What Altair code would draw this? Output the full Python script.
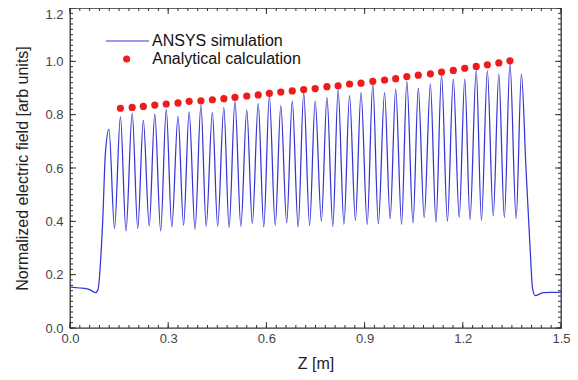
import altair as alt
import pandas as pd

# ---------------- data ----------------
start_x = [0.0, 0.03, 0.058, 0.078, 0.085, 0.100, 0.108]
start_y = [0.153, 0.150, 0.145, 0.133, 0.142, 0.404, 0.653]

peak_x = [0.119, 0.154, 0.190, 0.224, 0.259, 0.294, 0.330, 0.364, 0.400, 0.435,
          0.470, 0.504, 0.540, 0.575, 0.609, 0.644, 0.679, 0.714, 0.749, 0.785,
          0.819, 0.854, 0.889, 0.925, 0.961, 0.995, 1.029, 1.064, 1.101, 1.135,
          1.171, 1.206, 1.241, 1.275, 1.310, 1.344, 1.379]
peak_y = [0.746, 0.793, 0.806, 0.780, 0.803, 0.821, 0.794, 0.811, 0.837, 0.809,
          0.827, 0.850, 0.818, 0.842, 0.869, 0.834, 0.852, 0.881, 0.852, 0.865,
          0.892, 0.871, 0.883, 0.915, 0.883, 0.896, 0.925, 0.900, 0.915, 0.950,
          0.933, 0.933, 0.967, 0.964, 0.952, 0.992, 0.952]

trough_x = [0.136, 0.171, 0.207, 0.242, 0.277, 0.311, 0.347, 0.382, 0.416, 0.451,
            0.486, 0.522, 0.557, 0.592, 0.627, 0.662, 0.697, 0.732, 0.768, 0.803,
            0.837, 0.872, 0.908, 0.942, 0.978, 1.013, 1.048, 1.082, 1.118, 1.153,
            1.189, 1.222, 1.257, 1.293, 1.327, 1.363]
trough_y = [0.373, 0.364, 0.373, 0.383, 0.364, 0.379, 0.385, 0.370, 0.381, 0.381,
            0.376, 0.381, 0.391, 0.379, 0.385, 0.394, 0.379, 0.385, 0.401, 0.381,
            0.389, 0.404, 0.389, 0.391, 0.410, 0.389, 0.394, 0.414, 0.397, 0.401,
            0.416, 0.406, 0.404, 0.420, 0.414, 0.410]

end_x = [1.393, 1.406, 1.413, 1.421, 1.445, 1.470, 1.500]
end_y = [0.600, 0.290, 0.150, 0.121, 0.133, 0.134, 0.134]

calc_x = [0.154, 0.190, 0.224, 0.259, 0.294, 0.330, 0.364, 0.400, 0.435, 0.470,
          0.504, 0.540, 0.575, 0.609, 0.644, 0.679, 0.714, 0.749, 0.785, 0.819,
          0.854, 0.889, 0.925, 0.961, 0.995, 1.029, 1.064, 1.101, 1.135, 1.171,
          1.206, 1.241, 1.275, 1.310, 1.344]
calc_y = [0.824, 0.827, 0.831, 0.836, 0.840, 0.844, 0.850, 0.852, 0.856, 0.860,
          0.865, 0.870, 0.874, 0.880, 0.885, 0.889, 0.894, 0.898, 0.905, 0.908,
          0.915, 0.918, 0.925, 0.930, 0.935, 0.943, 0.948, 0.953, 0.960, 0.966,
          0.974, 0.981, 0.987, 0.994, 1.002]

x_major = [0.0, 0.3, 0.6, 0.9, 1.2, 1.5]
y_major = [0.0, 0.2, 0.4, 0.6, 0.8, 1.0, 1.2]
x_minor = [round(0.03 * i, 2) for i in range(51)]
y_minor = [round(0.02 * i, 2) for i in range(61)]

# ---------------- tables ----------------
sim_x, sim_y = list(start_x), list(start_y)
for i in range(len(peak_x)):
    sim_x.append(peak_x[i]); sim_y.append(peak_y[i])
    if i < len(trough_x):
        sim_x.append(trough_x[i]); sim_y.append(trough_y[i])
sim_x += end_x
sim_y += end_y

sim_df = pd.DataFrame({"z": sim_x, "e": sim_y, "series": "ANSYS simulation"})
calc_df = pd.DataFrame({"z": calc_x, "e": calc_y, "series": "Analytical calculation"})
xmaj_df = pd.DataFrame({"z": x_major})
xmin_df = pd.DataFrame({"z": x_minor})
ymaj_df = pd.DataFrame({"e": y_major})
ymin_df = pd.DataFrame({"e": y_minor})

W, H = 491, 320
FONT = "Liberation Sans"
TICK = "#333333"
xs = alt.Scale(domain=[0, 1.5], nice=False, zero=False)
ys = alt.Scale(domain=[0, 1.2], nice=False, zero=False)

line = alt.Chart(sim_df).mark_line(strokeWidth=1.25, interpolate="monotone").encode(
    x=alt.X("z:Q", scale=xs, axis=alt.Axis(
        values=x_major, format=".1f", ticks=False, domain=False, grid=False,
        labelFlush=False, labelFontSize=13, labelPadding=4, labelColor="#444",
        title="Z [m]", titleFontSize=16, titleFontWeight="normal",
        titlePadding=10, titleColor="#222")),
    y=alt.Y("e:Q", scale=ys, axis=alt.Axis(
        values=y_major, format=".1f", ticks=False, domain=False, grid=False,
        labelFlush=False, labelFontSize=13, labelPadding=7, labelColor="#444",
        labelBaseline={"condition": {"test": "datum.value >= 1.19", "value": "top"},
                       "value": "middle"},
        title="Normalized electric field [arb units]", titleFontSize=16,
        titleFontWeight="normal", titlePadding=14, titleColor="#222")),
    color=alt.Color("series:N", title=None,
                    scale=alt.Scale(domain=["ANSYS simulation"], range=["#3636d6"]),
                    legend=alt.Legend(orient="none", legendX=35, legendY=10.5,
                                      symbolType="stroke", symbolSize=1849,
                                      symbolStrokeWidth=1.2, labelFontSize=16,
                                      labelOffset=2, padding=0, labelColor="#111")),
)

dots = alt.Chart(calc_df).mark_circle(size=52, opacity=1).encode(
    x=alt.X("z:Q", scale=xs, axis=None),
    y=alt.Y("e:Q", scale=ys, axis=None),
    fill=alt.Fill("series:N", title=None,
                  scale=alt.Scale(domain=["Analytical calculation"], range=["#ee1c1c"]),
                  legend=alt.Legend(orient="none", legendX=48.6, legendY=43,
                                    symbolType="circle", symbolSize=50,
                                    symbolStrokeWidth=0, labelFontSize=16,
                                    labelOffset=17.7, padding=0, labelColor="#111")),
)


def xticks(df, y0, y1):
    return alt.Chart(df).mark_rule(color=TICK, strokeWidth=1).encode(
        x=alt.X("z:Q", scale=xs, axis=None),
        y=alt.value(y0), y2=alt.value(y1))


def yticks(df, x0, x1):
    return alt.Chart(df).mark_rule(color=TICK, strokeWidth=1).encode(
        y=alt.Y("e:Q", scale=ys, axis=None),
        x=alt.value(x0), x2=alt.value(x1))


ticks = [
    xticks(xmin_df, H, H - 3), xticks(xmaj_df, H, H - 6),
    xticks(xmin_df, 0, 3), xticks(xmaj_df, 0, 6),
    yticks(ymin_df, 0, 3), yticks(ymaj_df, 0, 6),
    yticks(ymin_df, W, W - 3), yticks(ymaj_df, W, W - 6),
]

chart = alt.layer(line, dots, *ticks).resolve_axis(
    x="independent", y="independent"
).properties(
    width=W, height=H,
    autosize=alt.AutoSizeParams(type="none"),
    padding={"left": 62, "top": 0, "right": 9, "bottom": 44},
).configure(font=FONT).configure_view(stroke="#333", strokeWidth=1.3)

chart.save("out.html", embed_options={"renderer": "svg", "actions": False})
